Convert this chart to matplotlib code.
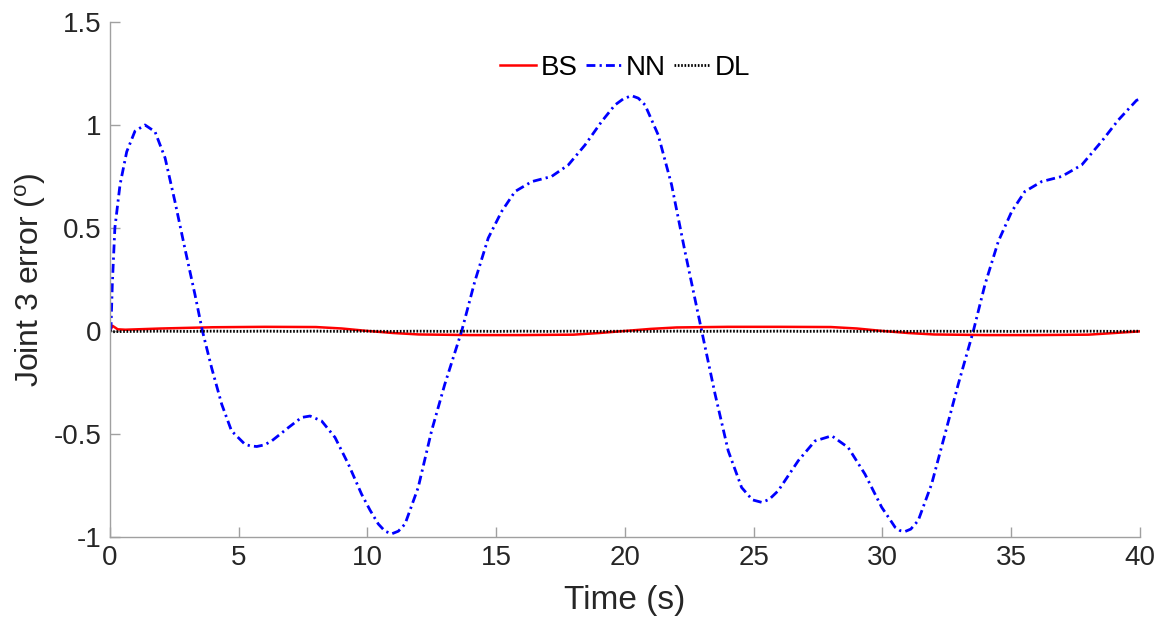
import matplotlib
matplotlib.use("Agg")
import matplotlib.pyplot as plt

plt.rcParams["font.family"] = ["Liberation Sans", "DejaVu Sans"]
plt.rcParams["mathtext.fontset"] = "custom"
plt.rcParams["mathtext.rm"] = "Liberation Sans"

# NN error
t_nn = [0.0, 0.04, 0.09, 0.19, 0.39, 0.65, 0.97, 1.36, 1.75, 2.14, 2.52, 2.91, 3.30,
        3.59, 3.95, 4.34, 4.72, 5.24, 5.45, 5.70, 6.0, 6.28, 6.93, 7.44, 7.77, 8.22,
        8.74, 9.26, 9.77, 10.1, 10.42, 10.68, 10.94, 11.2, 11.46, 11.97, 12.49, 13.0,
        13.66, 14.17, 14.69, 15.21, 15.73, 16.38, 17.15, 17.8, 18.45, 19.09, 19.61,
        19.95, 20.26, 20.52, 20.78, 21.29, 21.81, 22.33, 22.98, 23.5, 24.01, 24.53,
        24.95, 25.31, 25.6, 25.95, 26.73, 27.38, 28.03, 28.67, 29.32, 29.97, 30.29,
        30.49, 30.68, 30.87, 31.1, 31.39, 31.91, 32.43, 32.94, 33.53, 33.98, 34.5,
        35.02, 35.53, 36.18, 36.96, 37.74, 38.51, 39.16, 39.87, 40.0]
nn = [0.0, 0.02, 0.225, 0.50, 0.71, 0.87, 0.97, 1.0, 0.967, 0.84, 0.63, 0.40, 0.177,
      0.0, -0.18, -0.356, -0.485, -0.55, -0.558, -0.561, -0.553, -0.534, -0.469,
      -0.42, -0.413, -0.437, -0.517, -0.647, -0.792, -0.87, -0.937, -0.972, -0.985,
      -0.972, -0.937, -0.76, -0.485, -0.26, 0.0, 0.241, 0.451, 0.58, 0.677, 0.725,
      0.75, 0.806, 0.903, 1.016, 1.097, 1.128, 1.142, 1.13, 1.097, 0.952, 0.71, 0.386,
      0.0, -0.307, -0.582, -0.76, -0.82, -0.832, -0.818, -0.776, -0.63, -0.534,
      -0.509, -0.566, -0.695, -0.856, -0.915, -0.953, -0.969, -0.974, -0.962, -0.92,
      -0.743, -0.50, -0.26, 0.0, 0.225, 0.435, 0.58, 0.677, 0.725, 0.75, 0.806, 0.92,
      1.024, 1.12, 1.125]

# BS error
t_bs = [0, 0.1, 0.3, 0.6, 2, 4, 6, 8, 9, 10, 11, 12, 14, 16, 18, 19, 20, 21, 22, 24,
        26, 28, 29, 30, 31, 32, 34, 36, 38, 39, 40]
bs = [0.0, 0.025, 0.008, 0.006, 0.012, 0.018, 0.02, 0.019, 0.012, 0.0, -0.01,
      -0.017, -0.02, -0.02, -0.018, -0.01, 0.0, 0.01, 0.017, 0.02, 0.02, 0.019, 0.012,
      0.0, -0.01, -0.017, -0.02, -0.02, -0.018, -0.01, -0.002]

# DL error
t_dl = [0, 0.1, 0.3, 1, 2, 3, 4, 5, 6, 7, 8, 9, 10, 11, 12, 13, 14, 15, 16, 17, 18,
        19, 20, 21, 22, 23, 24, 25, 26, 27, 28, 29, 30, 31, 32, 33, 34, 35, 36, 37,
        38, 39, 40]
dl = [0.0, -0.004, -0.003, -0.002, -0.001, -0.002, -0.001, -0.002, -0.001, -0.002,
      -0.001, -0.002, -0.001, -0.002, -0.001, -0.002, -0.001, -0.002, -0.001, -0.002,
      -0.001, -0.002, -0.001, -0.002, -0.001, -0.002, -0.001, -0.002, -0.001, -0.002,
      -0.001, -0.002, -0.001, -0.002, -0.001, -0.002, -0.001, -0.002, -0.001, -0.002,
      -0.001, -0.002, -0.001]

fig = plt.figure(figsize=(11.65, 6.28), dpi=100)
ax = fig.add_axes([0.0944, 0.145, 0.8841, 0.82])

ax.plot(t_bs, bs, color="red", lw=1.8, label="BS")
ax.plot(t_nn, nn, color="blue", lw=2.0, dashes=(3.2, 1.5, 0.8, 1.5), label="NN")
ax.plot(t_dl, dl, color="black", lw=2.0, dashes=(0.6, 0.6), label="DL")

ax.set_xlim(0, 40)
ax.set_ylim(-1, 1.5)
ax.set_xticks(range(0, 41, 5))
ax.set_yticks([-1, -0.5, 0, 0.5, 1, 1.5])
ax.set_yticklabels(["-1", "-0.5", "0", "0.5", "1", "1.5"])

for side in ["top", "right"]:
    ax.spines[side].set_visible(False)
for side in ["left", "bottom"]:
    ax.spines[side].set_color("#a0a0a0")
    ax.spines[side].set_linewidth(1.0)
ax.tick_params(direction="in", length=7, width=1, color="#a0a0a0",
               labelsize=20, labelcolor="#262626", pad=6)

ax.set_xlabel("Time (s)", fontsize=24, color="#262626", labelpad=10)
ax.set_ylabel(r"Joint 3 error ($\mathregular{^o}$)", fontsize=23,
              color="#262626", labelpad=4)

ax.legend(loc="upper center", bbox_to_anchor=(0.50, 0.985), ncol=3, frameon=False,
          fontsize=20, handlelength=1.3, handletextpad=0.15, columnspacing=0.3)

plt.savefig("out.png", dpi=100)
